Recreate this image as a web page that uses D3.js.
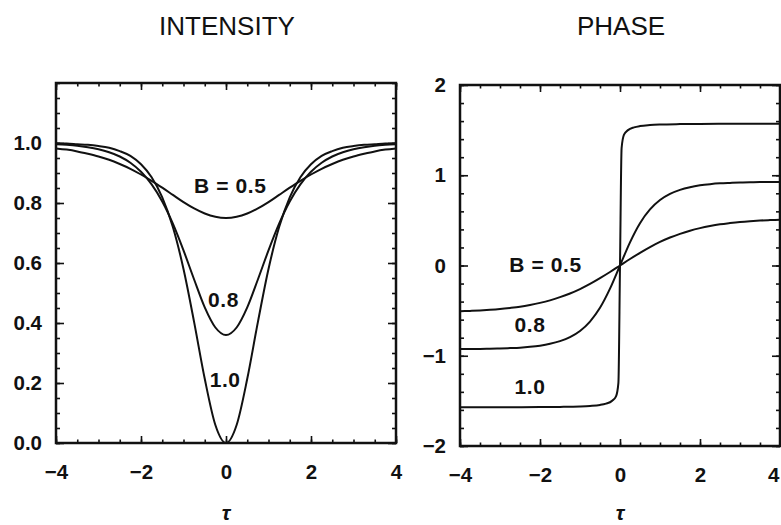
<!DOCTYPE html>
<html>
<head>
<meta charset="utf-8">
<script src="https://cdn.jsdelivr.net/npm/d3@7"></script>
<style>
  body { margin: 0; background: #fff; }
  svg { display: block; font-family: "Liberation Sans", Arial, sans-serif; }
  .axis text { font-size: 20.5px; font-weight: bold; fill: #111; }
  .axis line { stroke: #111; stroke-width: 1.6; }
  .axis .domain { display: none; }
</style>
</head>
<body>
<svg width="781" height="525"></svg>
<script>
// time grid shared by the smooth curves
const tau = [-4, -3.75, -3.5, -3.25, -3, -2.75, -2.5, -2.25, -2, -1.75, -1.5, -1.25, -1, -0.75, -0.5, -0.25,
    0, 0.25, 0.5, 0.75, 1, 1.25, 1.5, 1.75, 2, 2.25, 2.5, 2.75, 3, 3.25, 3.5, 3.75, 4];

// intensity
const intensity05 = [0.982, 0.978, 0.972, 0.964, 0.955, 0.944, 0.930, 0.914, 0.895, 0.874, 0.851, 0.827, 0.803, 0.782, 0.765, 0.754,
    0.750, 0.754, 0.765, 0.782, 0.803, 0.827, 0.851, 0.874, 0.895, 0.914, 0.930, 0.944, 0.955, 0.964, 0.972, 0.978, 0.982];
const intensity08 = [0.996, 0.994, 0.991, 0.986, 0.979, 0.969, 0.955, 0.934, 0.904, 0.862, 0.805, 0.731, 0.642, 0.545, 0.452, 0.385,
    0.360, 0.385, 0.452, 0.545, 0.642, 0.731, 0.805, 0.862, 0.904, 0.934, 0.955, 0.969, 0.979, 0.986, 0.991, 0.994, 0.996];
const intensity10 = [0.999, 0.998, 0.996, 0.994, 0.990, 0.984, 0.973, 0.957, 0.929, 0.886, 0.819, 0.720, 0.580, 0.403, 0.214, 0.060,
    0.000, 0.060, 0.214, 0.403, 0.580, 0.720, 0.819, 0.886, 0.929, 0.957, 0.973, 0.984, 0.990, 0.994, 0.996, 0.998, 0.999];

// phase
const phase05 = [-0.508, -0.503, -0.498, -0.491, -0.482, -0.470, -0.456, -0.437, -0.414, -0.386, -0.351, -0.310, -0.261, -0.204, -0.140, -0.072,
    0.000, 0.072, 0.140, 0.204, 0.261, 0.310, 0.351, 0.386, 0.414, 0.437, 0.456, 0.470, 0.482, 0.491, 0.498, 0.503, 0.508];
const phase08 = [-0.926, -0.925, -0.924, -0.922, -0.919, -0.915, -0.910, -0.901, -0.888, -0.868, -0.838, -0.793, -0.725, -0.621, -0.469, -0.257,
    0.000, 0.257, 0.469, 0.621, 0.725, 0.793, 0.838, 0.868, 0.888, 0.901, 0.910, 0.915, 0.919, 0.922, 0.924, 0.925, 0.926];
// B = 1.0 phase is almost a step, so it gets its own finer grid near zero
const tauStep = [-4, -3, -2, -1.5, -1, -0.75, -0.5, -0.35, -0.2, -0.1, -0.04, 0, 0.04, 0.1, 0.2, 0.35, 0.5, 0.75, 1, 1.5, 2, 3, 4];
const phase10 = [-1.570, -1.570, -1.569, -1.567, -1.562, -1.556, -1.545, -1.530, -1.500, -1.450, -1.300, 0.000,
    1.300, 1.450, 1.500, 1.530, 1.545, 1.556, 1.562, 1.567, 1.569, 1.570, 1.570];

const xTicks = [-4, -2, 0, 2, 4];
const intensityTicks = [0, 0.2, 0.4, 0.6, 0.8, 1.0];
const phaseTicks = [-2, -1, 0, 1, 2];

const svg = d3.select('svg');

const panels = [
    {
        title: 'INTENSITY', left: 56, right: 396, top: 83, bottom: 443,
        yDomain: [0, 1.2], yTicks: intensityTicks, yMinor: 0.05, yFormat: d3.format('.1f'),
        series: [
            { x: tau, y: intensity05 },
            { x: tau, y: intensity08 },
            { x: tau, y: intensity10 }
        ],
        labels: [
            { text: 'B = 0.5', x: 0.1, y: 0.833 },
            { text: '0.8', x: -0.06, y: 0.453 },
            { text: '1.0', x: -0.02, y: 0.186 }
        ]
    },
    {
        title: 'PHASE', left: 460, right: 780, top: 85, bottom: 446,
        yDomain: [-2, 2], yTicks: phaseTicks, yMinor: 0.2, yFormat: d3.format('d'),
        series: [
            { x: tau, y: phase05 },
            { x: tau, y: phase08 },
            { x: tauStep, y: phase10 }
        ],
        labels: [
            { text: 'B = 0.5', x: -1.86, y: -0.07 },
            { text: '0.8', x: -2.25, y: -0.737 },
            { text: '1.0', x: -2.25, y: -1.424 }
        ]
    }
];

panels.forEach(drawPanel);

function drawPanel(p) {
    const w = p.right - p.left;
    const h = p.bottom - p.top;
    const x = d3.scaleLinear().domain([-4, 4]).range([p.left, p.right]);
    const y = d3.scaleLinear().domain(p.yDomain).range([p.bottom, p.top]);

    const xMinor = d3.range(-4, 4.001, 0.5);
    const yMinor = d3.range(p.yDomain[0], p.yDomain[1] + 1e-6, p.yMinor);

    // minor ticks on all four sides, pointing in
    [[d3.axisBottom(x), p.bottom], [d3.axisTop(x), p.top]].forEach(([ax, pos]) => {
        svg.append('g').attr('class', 'axis')
            .attr('transform', 'translate(0,' + pos + ')')
            .call(ax.tickValues(xMinor).tickSize(-3.5).tickFormat(''));
    });
    [[d3.axisLeft(y), p.left], [d3.axisRight(y), p.right]].forEach(([ax, pos]) => {
        svg.append('g').attr('class', 'axis')
            .attr('transform', 'translate(' + pos + ',0)')
            .call(ax.tickValues(yMinor).tickSize(-4).tickFormat(''));
    });

    // major ticks with labels
    const bottomAxis = svg.append('g').attr('class', 'axis')
        .attr('transform', 'translate(0,' + p.bottom + ')')
        .call(d3.axisBottom(x).tickValues(xTicks).tickSize(-7).tickPadding(21)
            .tickFormat((d) => d < 0 ? '\u2212' + Math.abs(d) : d));
    // keep the last label inside the window
    bottomAxis.selectAll('.tick text')
        .filter((d) => x(d) > 770)
        .attr('text-anchor', 'end')
        .attr('dx', -1);
    svg.append('g').attr('class', 'axis')
        .attr('transform', 'translate(0,' + p.top + ')')
        .call(d3.axisTop(x).tickValues(xTicks).tickSize(-7).tickFormat(''));
    svg.append('g').attr('class', 'axis')
        .attr('transform', 'translate(' + p.left + ',0)')
        .call(d3.axisLeft(y).tickValues(p.yTicks).tickSize(-8).tickPadding(14)
            .tickFormat((d) => d < 0 ? '\u2212' + p.yFormat(Math.abs(d)) : p.yFormat(d)));
    svg.append('g').attr('class', 'axis')
        .attr('transform', 'translate(' + p.right + ',0)')
        .call(d3.axisRight(y).tickValues(p.yTicks).tickSize(-8).tickFormat(''));

    // frame
    svg.append('rect')
        .attr('x', p.left).attr('y', p.top)
        .attr('width', w).attr('height', h)
        .attr('fill', 'none')
        .attr('stroke', '#111')
        .attr('stroke-width', 2.5);

    // curves
    const line = d3.line().curve(d3.curveMonotoneX)
        .x((d) => x(d[0]))
        .y((d) => y(d[1]));
    p.series.forEach((s) => {
        svg.append('path')
            .attr('d', line(s.x.map((t, i) => [t, s.y[i]])))
            .attr('fill', 'none')
            .attr('stroke', '#111')
            .attr('stroke-width', 2);
    });

    // curve labels
    p.labels.forEach((l) => {
        svg.append('text')
            .attr('x', x(l.x)).attr('y', y(l.y))
            .attr('text-anchor', 'middle')
            .attr('font-size', 21)
            .attr('font-weight', 'bold')
            .attr('letter-spacing', 0.6)
            .attr('fill', '#111')
            .text(l.text);
    });

    // title and tau label
    svg.append('text')
        .attr('x', (p.left + p.right) / 2 + 1).attr('y', 35)
        .attr('text-anchor', 'middle')
        .attr('font-size', 26)
        .attr('fill', '#111')
        .text(p.title);
    svg.append('text')
        .attr('x', x(0)).attr('y', 520)
        .attr('text-anchor', 'middle')
        .attr('font-size', 21)
        .attr('font-style', 'italic')
        .attr('font-weight', 'bold')
        .attr('fill', '#111')
        .text('\u03c4');
}
</script>
</body>
</html>
